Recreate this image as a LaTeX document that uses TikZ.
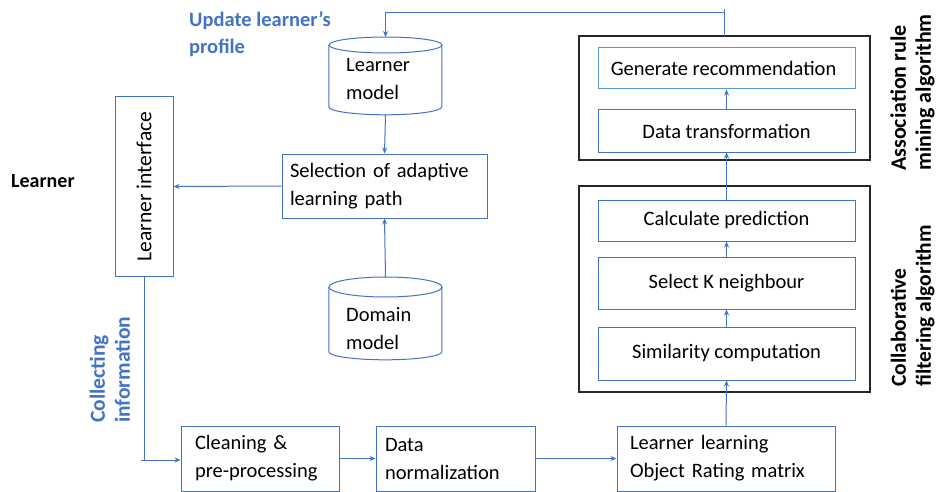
\documentclass[tikz,border=0pt]{standalone}
\usepackage{fontspec}
\setmainfont{Carlito}
\usetikzlibrary{arrows.meta}
\definecolor{lblue}{HTML}{4472C4}
\definecolor{gblue}{HTML}{5B9BD5}
\tikzset{
  every node/.style={font=\fontsize{20.5pt}{28pt}\selectfont, text=black},
  bluebox/.style={draw=lblue, line width=1pt, inner ysep=0pt},
  outerbox/.style={draw=black!85, line width=1.3pt},
  conn/.style={draw=lblue, line width=1pt},
  arr/.style={conn, -{Stealth[length=6pt,width=5pt]}},
  boldlbl/.style={font=\bfseries\fontsize{21.5pt}{25pt}\selectfont, inner sep=0pt},
  cyl/.style={draw=lblue, line width=1pt},
}
\begin{document}
\begin{tikzpicture}[x=1pt,y=-1pt]
\useasboundingbox (0,0) rectangle (936,492);
\fill[white] (0,0) rectangle (936,492);

% outer algorithm boxes
\node[outerbox, minimum width=291pt, minimum height=124pt, inner sep=0pt] (assoc) at (724.5,98) {};
\node[outerbox, minimum width=291pt, minimum height=206pt, inner sep=0pt] (collab) at (724.5,289) {};

% right column boxes
\node[bluebox, draw=gblue, minimum width=257pt, minimum height=41pt] (gen) at (726.5,68.5) {Generate recommendation\hspace*{6pt}};
\node[bluebox, minimum width=257pt, minimum height=42pt] (dt) at (726.5,131) {Data transformation};
\node[bluebox, minimum width=257pt, minimum height=41pt] (calc) at (726.5,220.5) {Calculate prediction};
\node[bluebox, minimum width=257pt, minimum height=52pt] (selk) at (726.5,283) {Select K neighbour};
\node[bluebox, minimum width=257pt, minimum height=53pt] (sim) at (726.5,353.5) {Similarity computation};

% bottom row
\node[bluebox, inner xsep=14pt, text width=130pt, align=left, minimum height=65pt] (clean) at (260,458.5) {Cleaning \&\\pre-processing};
\node[bluebox, inner xsep=9pt, text width=141pt, align=left, minimum height=65pt] (dn) at (455.5,458.5) {Data\\normalization};
\node[bluebox, inner xsep=13pt, text width=192pt, align=left, minimum height=65pt] (mat) at (726,458.5) {Learner learning\\Object Rating matrix};

% selection box
\node[bluebox, inner xsep=8pt, text width=189pt, align=left, minimum height=64pt] (sel) at (384.5,186) {Selection of adaptive\\learning path};

% learner interface
\node[bluebox, minimum width=58pt, minimum height=179pt, inner sep=0pt] (li) at (144,186.5) {};
\node[rotate=90, inner sep=0pt, font=\fontsize{21.5pt}{28pt}\selectfont] (litext) at (li.center) {Learner interface};

% learner model cylinder
\node[inner sep=0pt, minimum width=113pt, minimum height=78pt] (lm) at (385.5,76) {};
\draw[cyl] (lm.north west) ++(0,8) -- ++(0,62) arc[start angle=180, end angle=360, x radius=56.5pt, y radius=8pt] -- ++(0,-62);
\draw[cyl] (385.5,45) ellipse[x radius=56.5pt, y radius=8pt];
\node[anchor=west, align=left, inner sep=0pt] (lmtext) at (346,78.5) {Learner\\model};

% domain model cylinder
\node[inner sep=0pt, minimum width=113pt, minimum height=83pt] (dm) at (385.5,318.5) {};
\draw[cyl] (dm.north west) ++(0,10) -- ++(0,65) arc[start angle=180, end angle=360, x radius=56.5pt, y radius=8pt] -- ++(0,-65);
\draw[cyl] (385.5,287) ellipse[x radius=56.5pt, y radius=10pt];
\node[anchor=west, align=left, inner sep=0pt] (dmtext) at (346,328.5) {Domain\\model};

% labels
\node[boldlbl, text=lblue, anchor=west, align=left, font=\bfseries\fontsize{20.5pt}{27pt}\selectfont] (upd) at (189,34.5) {Update learner’s\\profile};
\node[boldlbl, anchor=west, font=\bfseries\fontsize{20pt}{27pt}\selectfont] (learner) at (11,181) {Learner};
\node[boldlbl, text=lblue, rotate=90, anchor=west, align=left] (coll) at (110,423) {Collecting\\information};
\node[boldlbl, rotate=90, anchor=west, align=left, font=\bfseries\fontsize{22pt}{25pt}\selectfont] (arm) at (912.5,171) {Association rule\\mining algorithm};
\node[boldlbl, rotate=90, anchor=west, align=left] (cfa) at (912.5,387) {Collaborative\\filtering algorithm};

% connectors
\coordinate (fbtick) at (724,9);
\coordinate (fbcorner) at (724,13);
\coordinate (fbstart) at (724,36);
\coordinate (lmtop) at (385.5,37);
\coordinate (lmbot) at (385.5,115);
\coordinate (dmtop) at (385.5,277);
\coordinate (collcorner) at (144,460);
\coordinate (colltick) at (141,460);
\draw[conn] (fbstart) -- (fbtick);
\draw[arr] (fbcorner) -| (lmtop);
\draw[arr] (lmbot) -- (sel.north);
\draw[arr] (dmtop) -- (sel.south);
\draw[arr] (sel.west) -- (li.east);
\draw[conn] (li.south) -- (collcorner);
\draw[arr] (colltick) -- (clean.west |- colltick);
\draw[arr] (clean.east) -- (dn.west);
\draw[arr] (dn.east) -- (mat.west);
\draw[arr] (mat.north) -- (sim.south);
\draw[arr] (sim.north) -- (selk.south);
\draw[arr] (selk.north) -- (calc.south);
\draw[arr] (calc.north) -- (dt.south);
\draw[arr] (dt.north) -- (gen.south);
\end{tikzpicture}
\end{document}
